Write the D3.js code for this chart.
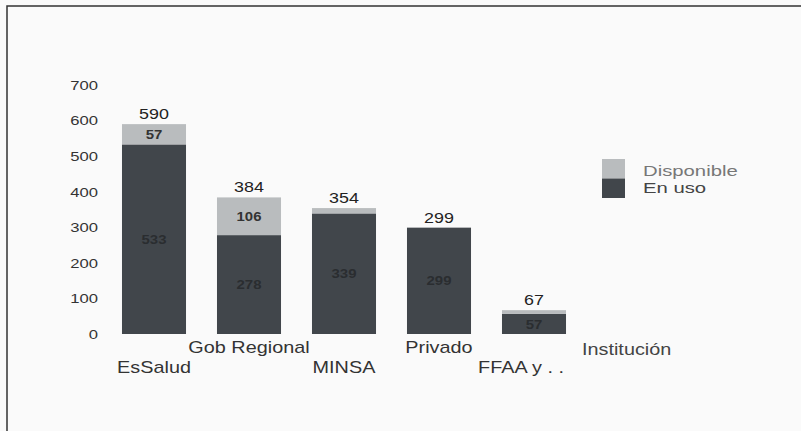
<!DOCTYPE html>
<html>
<head>
<meta charset="utf-8">
<script src="https://cdn.jsdelivr.net/npm/d3@7"></script>
<style>
  html, body { margin: 0; padding: 0; background: #fafafa; }
  svg { display: block; }
  text { font-family: "Liberation Sans", Arial, sans-serif; }
</style>
</head>
<body>
<svg id="chart" width="801" height="431"></svg>
<script>
const categories = ["EsSalud", "Gob Regional", "MINSA", "Privado", "FFAA y . ."];
const enUso      = [533, 278, 339, 299, 57];
const disponible = [57, 106, 15, 0, 10];
const totals     = [590, 384, 354, 299, 67];
const yTicks     = [0, 100, 200, 300, 400, 500, 600, 700];
const seriesNames = ["Disponible", "En uso"];
const axisTitle  = "Institución";

const colors = { "En uso": "#41464b", "Disponible": "#b9bcbe" };
const SX = 1.28; // horizontal stretch of the original lettering

const svg = d3.select("#chart");

// frame
svg.append("path")
  .attr("d", "M7,431 L7,6 L801,6")
  .attr("fill", "none").attr("stroke", "#333").attr("stroke-width", 1.5);

const x = d3.scaleBand().domain(categories).range([106.5, 581.5])
  .paddingInner(0.326).paddingOuter(0.163);
const y = d3.scaleLinear().domain([0, 700]).range([334, 85]);

function stretchedText(g, tx, ty, s, sx) {
  return g.append("text")
    .attr("transform", `translate(${tx},${ty}) scale(${sx},1)`)
    .text(s);
}

// y tick labels
const yAxis = svg.append("g");
yTicks.forEach(t => {
  stretchedText(yAxis, 98, y(t), String(t), SX)
    .attr("text-anchor", "end").attr("dominant-baseline", "central")
    .attr("font-size", 13).attr("fill", "#333");
});

// stacked data
const rows = categories.map((c, i) => ({ cat: c, "En uso": enUso[i], "Disponible": disponible[i], total: totals[i] }));
const stack = d3.stack().keys(["En uso", "Disponible"])(rows);

const gBars = svg.append("g");
stack.forEach(layer => {
  gBars.selectAll(null).data(layer).join("rect")
    .attr("x", d => x(d.data.cat))
    .attr("width", x.bandwidth())
    .attr("y", d => y(d[1]))
    .attr("height", d => y(d[0]) - y(d[1]))
    .attr("fill", colors[layer.key]);
});

// segment labels
stack.forEach(layer => {
  layer.forEach(d => {
    const v = d[1] - d[0];
    if (y(d[0]) - y(d[1]) < 12) return;
    stretchedText(gBars, x(d.data.cat) + x.bandwidth() / 2, (y(d[0]) + y(d[1])) / 2, String(v), 1.15)
      .attr("text-anchor", "middle").attr("dominant-baseline", "central")
      .attr("font-size", 13).attr("font-weight", "bold")
      .attr("fill", layer.key === "En uso" ? "#2a2d30" : "#333");
  });
});

// total labels
rows.forEach(d => {
  stretchedText(gBars, x(d.cat) + x.bandwidth() / 2, y(d.total) - 5, String(d.total), SX)
    .attr("text-anchor", "middle")
    .attr("font-size", 14).attr("fill", "#222");
});

// category labels (staggered)
const gx = svg.append("g");
categories.forEach((c, i) => {
  stretchedText(gx, x(c) + x.bandwidth() / 2 - (i === 4 ? 13 : 0), i % 2 === 0 ? 373 : 353, c, 1.24)
    .attr("text-anchor", "middle")
    .attr("font-size", 16).attr("fill", "#333");
});
stretchedText(gx, 582, 355, axisTitle, 1.24)
  .attr("font-size", 16).attr("fill", "#444");

// legend
const lg = svg.append("g");
seriesNames.forEach((s, i) => {
  lg.append("rect")
    .attr("x", 602).attr("y", 159 + i * 19.5)
    .attr("width", 23).attr("height", 19.5)
    .attr("fill", colors[s]);
  stretchedText(lg, 643, 171 + i * 17, s, 1.45)
    .attr("dominant-baseline", "central")
    .attr("font-size", 14).attr("fill", i === 0 ? "#777" : "#444");
});
</script>
</body>
</html>
